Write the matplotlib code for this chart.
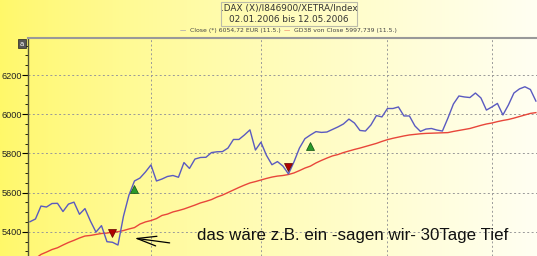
import numpy as np
import matplotlib.pyplot as plt
from matplotlib.patches import Rectangle

# daily closes (trading day index 0..92)
close = [5451, 5465, 5531, 5526, 5544, 5545, 5503, 5541, 5551, 5489,
         5518, 5454, 5398, 5431, 5349, 5346, 5332, 5479, 5587, 5659,
         5674, 5705, 5741, 5659, 5669, 5682, 5687, 5678, 5753, 5723,
         5771, 5779, 5780, 5804, 5808, 5809, 5827, 5871, 5871, 5894,
         5920, 5817, 5857, 5790, 5742, 5758, 5735, 5695, 5756, 5827,
         5875, 5894, 5911, 5907, 5909, 5922, 5935, 5950, 5975, 5955,
         5917, 5914, 5945, 5993, 5986, 6029, 6029, 6037, 5991, 5991,
         5940, 5912, 5924, 5927, 5919, 5914, 5980, 6052, 6093, 6088,
         6085, 6108, 6083, 6021, 6037, 6055, 5996, 6047, 6108, 6129,
         6140, 6126, 6067]

gd38 = [5250, 5263, 5284, 5296, 5309, 5318, 5332, 5345, 5356, 5368,
        5378, 5381, 5386, 5391, 5393, 5398, 5400, 5406, 5414, 5421,
        5439, 5450, 5457, 5467, 5483, 5490, 5501, 5508, 5516, 5526,
        5536, 5547, 5555, 5564, 5577, 5587, 5600, 5613, 5626, 5638,
        5649, 5656, 5664, 5672, 5679, 5684, 5687, 5692, 5700, 5712,
        5725, 5735, 5751, 5764, 5776, 5787, 5794, 5804, 5812, 5820,
        5827, 5835, 5843, 5851, 5861, 5870, 5877, 5883, 5889, 5894,
        5897, 5900, 5902, 5903, 5904, 5905, 5906, 5912, 5917, 5922,
        5927, 5935, 5943, 5950, 5955, 5962, 5968, 5973, 5980, 5988,
        5996, 6004, 6008]

sell_idx = [15, 47]
sell_val = [5392, 5730]
buy_idx = [19, 51]
buy_val = [5618, 5838]

month_starts = [22, 42, 65, 84]
yticks = [5400, 5600, 5800, 6000, 6200]

fig = plt.figure(figsize=(5.37, 2.56), dpi=100)

# background gradient over whole figure
bg = fig.add_axes([0, 0, 1, 1], zorder=-10)
t = np.linspace(0, 1, 256) ** 0.8
c0 = np.array([255, 248, 105]) / 255
c1 = np.array([255, 255, 242]) / 255
grad = c0[None, :] * (1 - t[:, None]) + c1[None, :] * t[:, None]
bg.imshow(grad[None, :, :], aspect="auto", extent=[0, 1, 0, 1])
bg.set_axis_off()

ax = fig.add_axes([28 / 537, 0, 1 - 28 / 537, 218 / 256])
ax.patch.set_alpha(0)
x = np.arange(len(close))
ax.plot(x, gd38, color="#e8463a", lw=1.0)
ax.plot(x, close, color="#5a5ac0", lw=1.0)
ax.plot(sell_idx, sell_val, "v", color="#b00000", mec="#600000", ms=6, mew=0.5)
ax.plot(buy_idx, buy_val, "^", color="#2a9a2a", mec="#105010", ms=6, mew=0.5)

ax.set_xlim(-0.36, 92.2)
ax.set_ylim(5276, 6389)
ax.set_yticks(yticks)
ax.set_yticks(np.arange(5300, 6400, 50), minor=True)
ax.set_xticks(month_starts)
ax.tick_params(axis="x", length=0, labelbottom=False)
ax.tick_params(axis="y", which="major", length=4, width=0.8, labelsize=6.6,
               pad=0.5, labelcolor="#222222")
ax.tick_params(axis="y", which="minor", length=2, width=0.6)
for lbl in ax.get_yticklabels():
    lbl.set_family("Liberation Sans")
ax.grid(True, color="#999999", ls=(0, (2, 2.5)), lw=0.7)
for s in ["right", "bottom"]:
    ax.spines[s].set_visible(False)
ax.spines["left"].set_color("#555533")
ax.spines["left"].set_linewidth(1.0)
ax.spines["top"].set_color("#999999")
ax.spines["top"].set_linewidth(1.5)

ax.text(30.4, 5358, "das wäre z.B. ein -sagen wir- 30Tage Tief",
        fontsize=12.2, family="Liberation Sans", va="baseline", ha="left",
        color="#111111")
ax.annotate("", xy=(18.5, 5369), xytext=(25.9, 5341),
            arrowprops=dict(arrowstyle="->,head_length=1.4,head_width=0.35",
                            color="black", lw=0.9))

# title box
fig.patches.append(Rectangle((221 / 537, 1 - 26 / 256), 136 / 537, 24 / 256,
                             transform=fig.transFigure, fill=False,
                             ec="#bbbbaa", lw=0.8))
fig.text(289 / 537, 1 - 8 / 256, ".DAX (X)/I846900/XETRA/Index", ha="center",
         va="center", fontsize=6.4, color="#333333")
fig.text(289 / 537, 1 - 19 / 256, "02.01.2006 bis 12.05.2006", ha="center",
         va="center", fontsize=6.4, color="#333333")

# legend line
ly = 1 - 30.5 / 256
fig.text(180 / 537, ly, "—", color="#5a5ac0", fontsize=4.5, va="center")
fig.text(190 / 537, ly, "Close (*) 6054,72 EUR (11.5.)", color="#444444",
         fontsize=4.4, va="center")
fig.text(284 / 537, ly, "—", color="#e8463a", fontsize=4.5, va="center")
fig.text(294 / 537, ly, "GD38 von Close 5997,739 (11.5.)", color="#444444",
         fontsize=4.4, va="center")

# small corner icon
fig.patches.append(Rectangle((18 / 537, 1 - 48 / 256), 8 / 537, 9 / 256,
                             transform=fig.transFigure, fc="#555555",
                             ec="#222222", lw=0.5))
fig.text(22 / 537, 1 - 43.5 / 256, "a", color="white", fontsize=5,
         ha="center", va="center")

fig.savefig("out.png", dpi=100)
